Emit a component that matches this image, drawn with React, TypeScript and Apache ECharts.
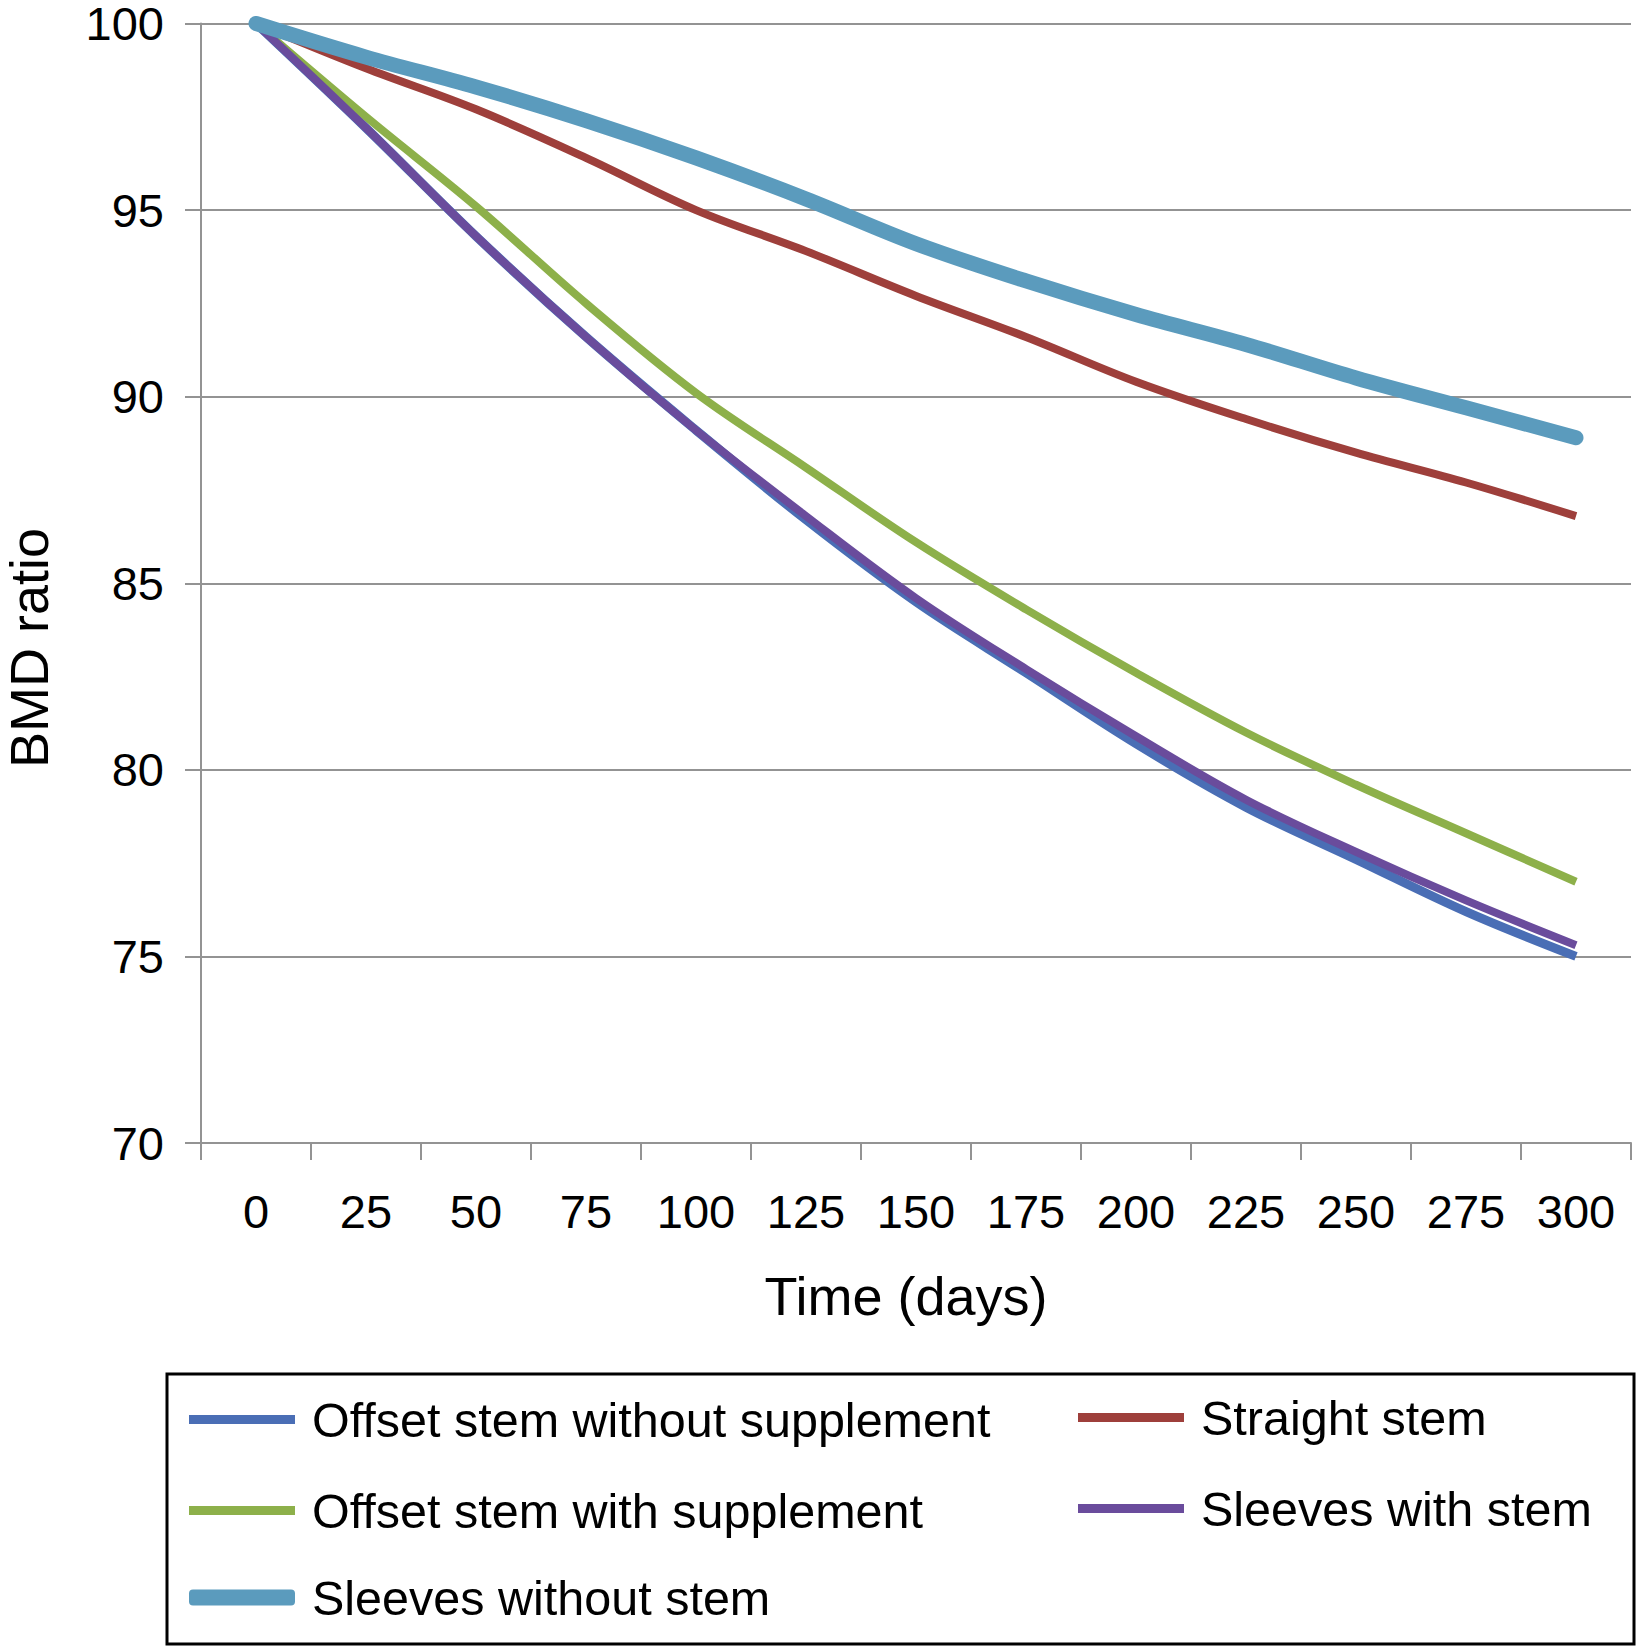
import { useEffect, useRef } from "react";
import * as echarts from "echarts";

// days after surgery (category axis)
const days = ["0", "25", "50", "75", "100", "125", "150", "175", "200", "225", "250", "275", "300"];

// BMD ratio (%) per series
const offsetWithout = [100, 97.2, 94.3, 91.6, 89.1, 86.7, 84.5, 82.6, 80.7, 79.0, 77.6, 76.2, 75.0];
const straightStem = [100, 98.8, 97.7, 96.4, 95.0, 93.9, 92.7, 91.6, 90.4, 89.4, 88.5, 87.7, 86.8];
const offsetWith = [100, 97.5, 95.1, 92.5, 90.1, 88.1, 86.1, 84.3, 82.6, 81.0, 79.6, 78.3, 77.0];
const sleevesWith = [100, 97.2, 94.3, 91.6, 89.1, 86.8, 84.6, 82.7, 80.9, 79.2, 77.8, 76.5, 75.3];
const sleevesWithout = [100, 99.1, 98.3, 97.4, 96.4, 95.3, 94.1, 93.1, 92.2, 91.4, 90.5, 89.7, 88.9];

const yTicks = { min: 70, max: 100, step: 5 };

const FONT = "'Liberation Sans', Arial, Helvetica, sans-serif";
const GRID_GRAY = "#939393";

export default function App() {
  const ref = useRef<HTMLDivElement | null>(null);

  useEffect(() => {
    document.body.style.margin = "0";
    if (!ref.current) return;
    const chart = echarts.init(ref.current, null, { renderer: "svg" });

    const line = (name: string, data: number[], color: string, width: number, cap = "butt") => ({
      name,
      type: "line" as const,
      data,
      smooth: 0.35,
      symbol: "none",
      color,
      itemStyle: { color },
      lineStyle: { color, width, cap },
      emphasis: { disabled: true },
    });

    const legendText = {
      fontFamily: FONT,
      fontSize: 48.5,
      color: "#000",
      lineHeight: 46,
      padding: [0, 0, 0, 12],
    };

    chart.setOption({
      animation: false,
      backgroundColor: "#fff",
      textStyle: { fontFamily: FONT },
      grid: { left: 201, right: 5, top: 22, bottom: 505, containLabel: false },
      xAxis: {
        type: "category",
        data: days,
        boundaryGap: true,
        name: "Time (days)",
        nameLocation: "middle",
        nameGap: 126,
        nameTextStyle: { fontFamily: FONT, fontSize: 54, color: "#000", padding: [0, 20, 0, 0] },
        axisLine: { lineStyle: { color: GRID_GRAY, width: 2 } },
        axisTick: { show: true, length: 17, interval: 0, lineStyle: { color: GRID_GRAY, width: 2 } },
        axisLabel: { fontFamily: FONT, fontSize: 47, color: "#000", margin: 45, interval: 0 },
        splitLine: { show: false },
      },
      yAxis: {
        type: "value",
        min: yTicks.min,
        max: yTicks.max,
        interval: yTicks.step,
        axisLine: { show: true, lineStyle: { color: GRID_GRAY, width: 2 } },
        axisTick: { show: true, length: 16, lineStyle: { color: GRID_GRAY, width: 2 } },
        axisLabel: {
          fontFamily: FONT,
          fontSize: 47,
          color: "#000",
          margin: 37,
          lineHeight: 40,
          padding: [6, 0, 0, 0],
        },
        splitLine: { lineStyle: { color: GRID_GRAY, width: 2 } },
      },
      legend: [
        {
          orient: "vertical",
          left: 189,
          top: 1395,
          padding: 0,
          itemGap: 42,
          itemWidth: 106,
          itemHeight: 9,
          icon: "rect",
          itemStyle: { borderWidth: 0 },
          textStyle: legendText,
          data: ["Offset stem without supplement", "Offset stem with supplement"],
        },
        {
          orient: "vertical",
          left: 189,
          top: 1573,
          padding: 0,
          itemWidth: 106,
          itemHeight: 16,
          icon: "roundRect",
          itemStyle: { borderWidth: 0 },
          textStyle: legendText,
          data: ["Sleeves without stem"],
        },
        {
          orient: "vertical",
          left: 1078,
          top: 1393,
          padding: 0,
          itemGap: 42,
          itemWidth: 106,
          itemHeight: 9,
          icon: "rect",
          itemStyle: { borderWidth: 0 },
          textStyle: legendText,
          data: ["Straight stem", "Sleeves with stem"],
        },
      ],
      graphic: [
        {
          type: "rect",
          shape: { x: 167, y: 1374, width: 1467, height: 270 },
          style: { fill: "none", stroke: "#000", lineWidth: 3 },
          silent: true,
        },
        {
          type: "text",
          x: 29,
          y: 648,
          rotation: Math.PI / 2,
          style: {
            text: "BMD ratio",
            fontFamily: FONT,
            fontSize: 54,
            fill: "#000",
            align: "center",
            verticalAlign: "middle",
          },
          silent: true,
        },
      ],
      series: [
        line("Offset stem without supplement", offsetWithout, "#4A6EB5", 9),
        line("Straight stem", straightStem, "#9E3F3B", 8),
        line("Offset stem with supplement", offsetWith, "#8DB04A", 8),
        line("Sleeves with stem", sleevesWith, "#6A4C9C", 8),
        line("Sleeves without stem", sleevesWithout, "#5B9BBD", 15, "round"),
      ],
    });

    return () => {
      chart.dispose();
    };
  }, []);

  return <div ref={ref} style={{ width: 1636, height: 1648 }} />;
}
